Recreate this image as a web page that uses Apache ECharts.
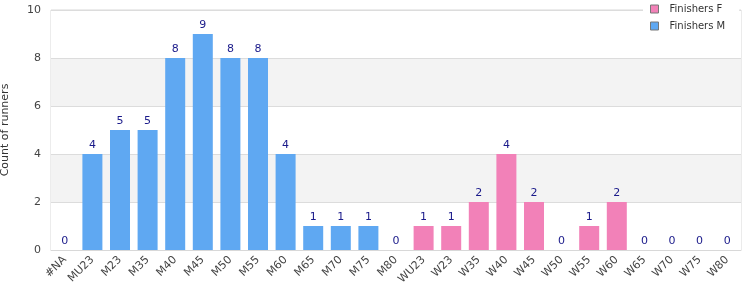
<!DOCTYPE html>
<html><head><meta charset="utf-8">
<script src="https://cdn.jsdelivr.net/npm/echarts@6/dist/echarts.min.js"></script>
<style>html,body{margin:0;padding:0;background:#fff}#c{width:750px;height:300px}</style>
</head><body><div id="c"></div>
<script>
const categories = ['#NA','MU23','M23','M35','M40','M45','M50','M55','M60','M65','M70','M75','M80','WU23','W23','W35','W40','W45','W50','W55','W60','W65','W70','W75','W80'];
const finishersM = [0,4,5,5,8,9,8,8,4,1,1,1,0,'-','-','-','-','-','-','-','-','-','-','-','-'];
const finishersF = ['-','-','-','-','-','-','-','-','-','-','-','-','-',1,1,2,4,2,0,1,2,0,0,0,0];
const yTicks = [0,2,4,6,8,10];

const chart = echarts.init(document.getElementById('c'));
const lbl = {show:true, position:'top', color:'#1a1a8a', fontSize:11, fontFamily:'DejaVu Sans', distance:3};
chart.setOption({
  animation:false,
  grid:{left:51,right:9,top:10,bottom:50,show:true,borderColor:'#d8d8d8',borderWidth:1,backgroundColor:'transparent',outerBoundsMode:'none',containLabel:false},
  legend:{left:643,top:0,orient:'vertical',itemWidth:8,itemHeight:8,itemGap:7,backgroundColor:'#fff',padding:[4,14,4,7],
    icon:'rect',
    textStyle:{fontFamily:'DejaVu Sans',fontSize:10,color:'#333',padding:[0,0,0,6]},data:['Finishers F','Finishers M']},
  xAxis:{type:'category',data:categories,axisTick:{show:false},axisLine:{lineStyle:{color:'#d8d8d8'}},
    axisLabel:{rotate:45,interval:0,color:'#444',fontFamily:'DejaVu Sans',fontSize:11,margin:8}},
  yAxis:{type:'value',min:yTicks[0],max:yTicks[yTicks.length-1],interval:2,
    name:'Count of runners',nameLocation:'middle',nameGap:40,nameTextStyle:{color:'#333',fontFamily:'DejaVu Sans',fontSize:11},
    axisLabel:{color:'#444',fontFamily:'DejaVu Sans',fontSize:11,margin:10},
    splitLine:{lineStyle:{color:'#dcdcdc'}},
    splitArea:{show:true,areaStyle:{color:['#ffffff','#f3f3f3']}}},
  series:[
    {name:'Finishers M',type:'bar',stack:'a',data:finishersM,barWidth:20,itemStyle:{color:'#5fa8f2'},label:lbl},
    {name:'Finishers F',type:'bar',stack:'a',data:finishersF,barWidth:20,itemStyle:{color:'#f281b8'},label:lbl}
  ]
});
chart.setOption({legend:{itemStyle:{borderColor:'#777',borderWidth:1}}});
</script></body></html>
